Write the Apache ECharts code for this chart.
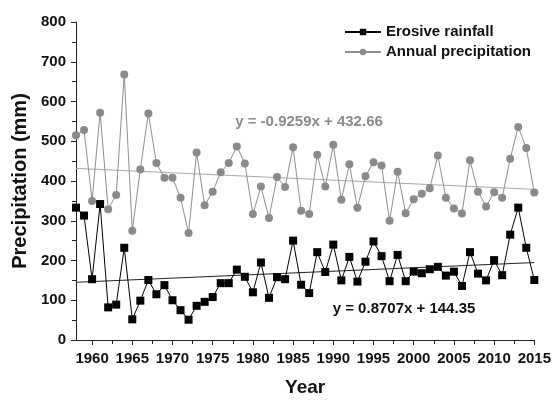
<!DOCTYPE html>
<html>
<head>
<meta charset="utf-8">
<title>Erosive rainfall and annual precipitation</title>
<script src="https://cdn.jsdelivr.net/npm/echarts@6/dist/echarts.min.js"></script>
<style>
  html, body { margin: 0; padding: 0; background: #fff; }
  #chart { width: 554px; height: 402px; }
</style>
</head>
<body>
<div id="chart"></div>
<script>
// Observation years
const years = [
  1958, 1959, 1960, 1961, 1962, 1963, 1964, 1965, 1966, 1967,
  1968, 1969, 1970, 1971, 1972, 1973, 1974, 1975, 1976, 1977,
  1978, 1979, 1980, 1981, 1982, 1983, 1984, 1985, 1986, 1987,
  1988, 1989, 1990, 1991, 1992, 1993, 1994, 1995, 1996, 1997,
  1998, 1999, 2000, 2001, 2002, 2003, 2004, 2005, 2006, 2007,
  2008, 2009, 2010, 2011, 2012, 2013, 2014, 2015
];

// Erosive rainfall (mm)
const erosiveRainfall = [
  333, 313, 153, 342, 82, 89, 232, 52, 99, 151,
  115, 138, 100, 75, 51, 86, 96, 108, 143, 143,
  177, 159, 120, 195, 106, 158, 153, 250, 139, 118,
  221, 171, 240, 150, 209, 147, 197, 248, 211, 148,
  214, 148, 172, 168, 178, 184, 162, 172, 136, 221,
  167, 150, 201, 163, 265, 333, 232, 151
];

// Annual precipitation (mm)
const annualPrecipitation = [
  515, 528, 350, 572, 329, 365, 668, 275, 429, 570,
  445, 408, 408, 358, 269, 472, 339, 373, 422, 445,
  487, 444, 317, 386, 307, 410, 385, 485, 325, 317,
  466, 386, 491, 353, 442, 333, 412, 447, 439, 300,
  423, 319, 354, 368, 382, 464, 358, 331, 318, 452,
  373, 336, 372, 358, 456, 536, 483, 371
];

// Linear trends, x = year index starting at 1
const erosiveTrend = { slope: 0.8707, intercept: 144.35 };
const annualTrend = { slope: -0.9259, intercept: 432.66 };

// Axis ticks and labels
const xMajorTicks = [1960, 1965, 1970, 1975, 1980, 1985, 1990, 1995, 2000, 2005, 2010, 2015];
const xMinorTicks = [1962.5, 1967.5, 1972.5, 1977.5, 1982.5, 1987.5, 1992.5, 1997.5, 2002.5, 2007.5, 2012.5];
const yTicks = [0, 100, 200, 300, 400, 500, 600, 700, 800];

const seriesNames = ['Erosive rainfall', 'Annual precipitation'];
const eqLabels = ['y = 0.8707x + 144.35', 'y = -0.9259x + 432.66'];

const FONT = '"Liberation Sans", Arial, sans-serif';

function pairs(vals) {
  return years.map((y, i) => [y, vals[i]]);
}
function trendLine(t) {
  const n = years.length;
  return [
    [years[0], t.intercept + t.slope * 1],
    [years[n - 1], t.intercept + t.slope * n]
  ];
}

const chart = echarts.init(document.getElementById('chart'), null, { renderer: 'canvas' });

const axisLine = { show: true, lineStyle: { color: '#222', width: 1 } };

chart.setOption({
  backgroundColor: '#fff',
  animation: false,
  textStyle: { fontFamily: FONT },
  grid: { left: 76, right: 17, top: 22, bottom: 58, containLabel: false },
  legend: {
    data: seriesNames,
    orient: 'vertical',
    left: 344,
    top: 24,
    padding: 0,
    itemWidth: 36,
    itemHeight: 8,
    itemGap: 4,
    textStyle: { fontFamily: FONT, fontWeight: 'bold', fontSize: 15, color: '#111', lineHeight: 16, padding: [0, 0, 0, 0] }
  },
  xAxis: [
    {
      type: 'value',
      min: years[0],
      max: years[years.length - 1],
      name: 'Year',
      nameLocation: 'middle',
      nameGap: 38,
      nameTextStyle: { fontFamily: FONT, fontWeight: 'bold', fontSize: 19, color: '#111' },
      axisLine: axisLine,
      axisTick: { show: true, inside: false, length: 5, customValues: xMajorTicks, lineStyle: { color: '#222' } },
      axisLabel: {
        show: true, margin: 11, customValues: xMajorTicks,
        fontFamily: FONT, fontWeight: 'bold', fontSize: 15, color: '#111',
        formatter: v => String(v)
      },
      splitLine: { show: false }
    },
    {
      type: 'value',
      min: years[0],
      max: years[years.length - 1],
      position: 'bottom',
      axisLine: { show: false },
      axisTick: { show: true, inside: false, length: 4, customValues: xMinorTicks, lineStyle: { color: '#222' } },
      axisLabel: { show: false },
      splitLine: { show: false }
    }
  ],
  yAxis: {
    type: 'value',
    min: yTicks[0],
    max: yTicks[yTicks.length - 1],
    interval: 100,
    name: 'Precipitation (mm)',
    nameLocation: 'middle',
    nameGap: 46,
    nameTextStyle: { fontFamily: FONT, fontWeight: 'bold', fontSize: 20, color: '#111' },
    axisLine: axisLine,
    axisTick: { show: true, inside: false, length: 5, lineStyle: { color: '#222' } },
    minorTick: { show: true, splitNumber: 2, length: 4, lineStyle: { color: '#222' } },
    axisLabel: { margin: 10, fontFamily: FONT, fontWeight: 'bold', fontSize: 15, color: '#111' },
    splitLine: { show: false },
    minorSplitLine: { show: false }
  },
  series: [
    {
      name: 'Annual precipitation trend',
      type: 'line',
      data: trendLine(annualTrend),
      symbol: 'none',
      lineStyle: { color: '#a8a8a8', width: 1 },
      silent: true,
      z: 1
    },
    {
      name: 'Erosive rainfall trend',
      type: 'line',
      data: trendLine(erosiveTrend),
      symbol: 'none',
      lineStyle: { color: '#222', width: 1 },
      silent: true,
      z: 1
    },
    {
      name: seriesNames[1],
      type: 'line',
      data: pairs(annualPrecipitation),
      symbol: 'circle',
      symbolSize: 8,
      itemStyle: { color: '#8a8a8a' },
      lineStyle: { color: '#8e8e8e', width: 1 },
      z: 2
    },
    {
      name: seriesNames[0],
      type: 'line',
      data: pairs(erosiveRainfall),
      symbol: 'rect',
      symbolSize: 8,
      itemStyle: { color: '#000' },
      lineStyle: { color: '#000', width: 1 },
      z: 3
    }
  ],
  graphic: [
    {
      type: 'text',
      x: 309, y: 122,
      style: {
        text: eqLabels[1], fill: '#8a8a8a',
        font: 'bold 15px ' + FONT, align: 'center', verticalAlign: 'middle'
      }
    },
    {
      type: 'text',
      x: 404, y: 309,
      style: {
        text: eqLabels[0], fill: '#111',
        font: 'bold 15px ' + FONT, align: 'center', verticalAlign: 'middle'
      }
    }
  ]
});
</script>
</body>
</html>
